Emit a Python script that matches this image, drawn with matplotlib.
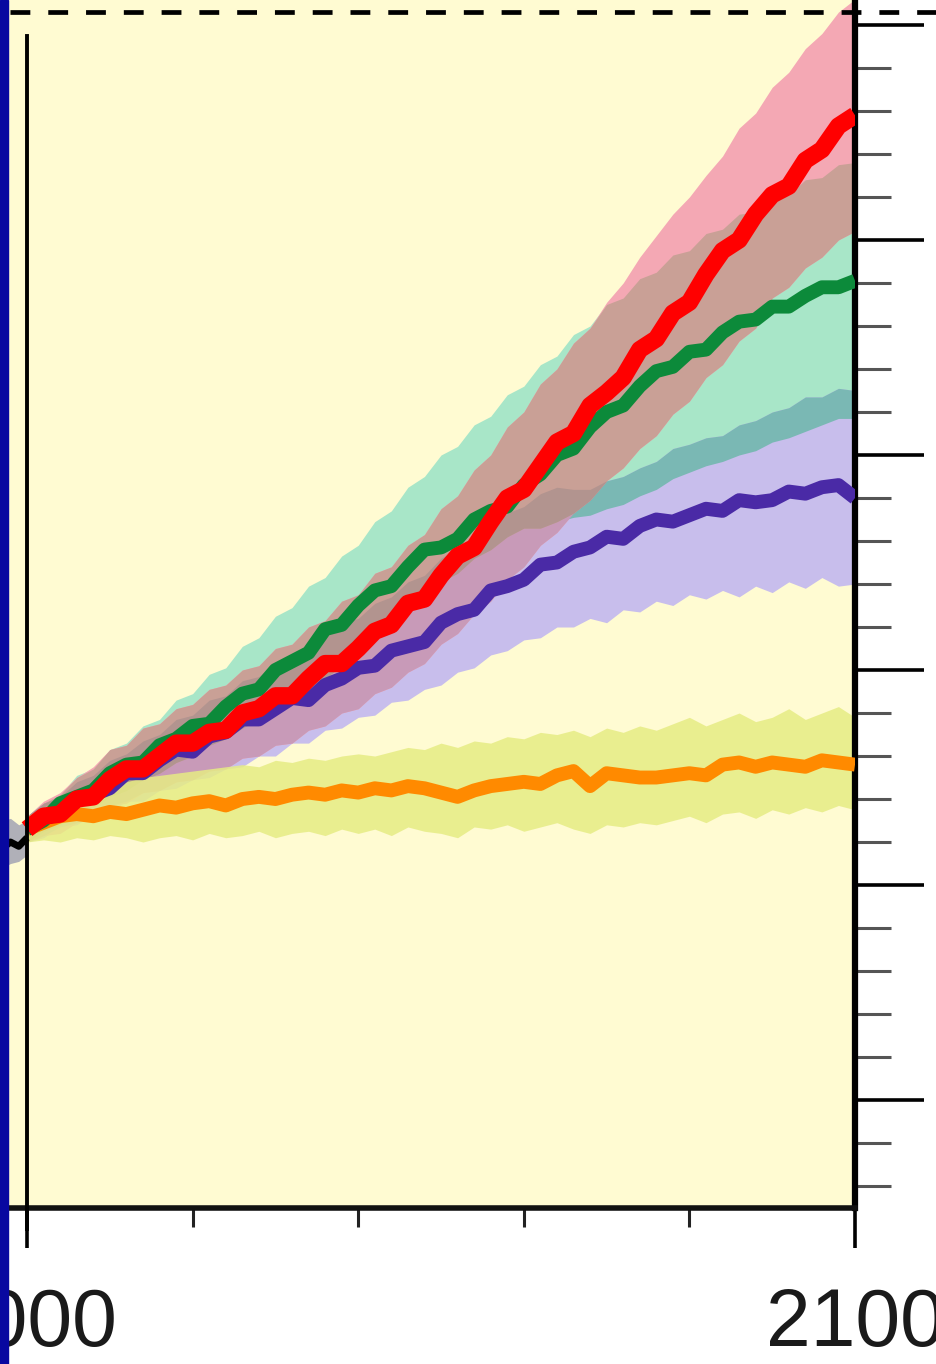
import numpy as np
import matplotlib
matplotlib.use("Agg")
import matplotlib.pyplot as plt
from matplotlib.lines import Line2D
from matplotlib.patches import Rectangle

# ---------------- data ----------------
years = list(range(2000, 2101, 2))

a2_mean = [0.26,0.32,0.33,0.40,0.41,0.49,0.54,0.54,0.60,0.66,
           0.66,0.71,0.72,0.80,0.82,0.88,0.88,0.96,1.03,1.03,
           1.10,1.18,1.21,1.31,1.33,1.44,1.53,1.57,1.69,1.80,
           1.84,1.95,2.06,2.10,2.23,2.29,2.36,2.49,2.54,2.66,
           2.71,2.84,2.95,3.00,3.12,3.21,3.25,3.37,3.42,3.53,
           3.58]
a2_upper = [0.32,0.39,0.43,0.50,0.55,0.63,0.65,0.73,0.75,0.82,
            0.84,0.91,0.93,1.00,1.02,1.10,1.12,1.20,1.23,1.32,
            1.35,1.45,1.48,1.58,1.63,1.75,1.81,1.93,2.00,2.13,
            2.20,2.33,2.40,2.52,2.59,2.71,2.80,2.92,3.02,3.12,
            3.20,3.30,3.39,3.52,3.59,3.71,3.78,3.89,3.96,4.06,
            4.12]
a2_lower = [0.20,0.23,0.24,0.29,0.31,0.37,0.38,0.43,0.44,0.48,
            0.49,0.53,0.54,0.59,0.60,0.65,0.66,0.72,0.74,0.80,
            0.82,0.89,0.92,0.99,1.03,1.12,1.17,1.26,1.32,1.42,
            1.48,1.58,1.64,1.73,1.79,1.88,1.94,2.03,2.09,2.19,
            2.25,2.36,2.42,2.53,2.59,2.73,2.78,2.87,2.92,3.00,
            3.04]

a1b_mean = [0.26,0.30,0.38,0.41,0.44,0.52,0.56,0.57,0.65,0.68,
            0.74,0.75,0.83,0.89,0.91,1.00,1.04,1.08,1.19,1.21,
            1.30,1.37,1.39,1.48,1.56,1.57,1.61,1.70,1.74,1.76,
            1.86,1.91,2.00,2.03,2.13,2.20,2.23,2.32,2.39,2.41,
            2.48,2.49,2.57,2.62,2.63,2.69,2.69,2.74,2.78,2.78,
            2.81]
a1b_upper = [0.32,0.38,0.42,0.51,0.54,0.63,0.66,0.74,0.77,0.86,
             0.89,0.98,1.01,1.11,1.15,1.25,1.29,1.39,1.43,1.53,
             1.58,1.69,1.74,1.85,1.90,2.00,2.04,2.14,2.18,2.28,
             2.32,2.42,2.46,2.56,2.60,2.70,2.73,2.82,2.85,2.93,
             2.95,3.03,3.05,3.12,3.13,3.20,3.21,3.28,3.29,3.35,
             3.36]
a1b_lower = [0.20,0.25,0.28,0.33,0.36,0.41,0.44,0.49,0.52,0.57,
             0.60,0.65,0.68,0.73,0.77,0.82,0.86,0.92,0.96,1.02,
             1.07,1.14,1.20,1.30,1.34,1.41,1.45,1.52,1.56,1.62,
             1.66,1.66,1.69,1.71,1.72,1.75,1.77,1.81,1.84,1.89,
             1.92,1.95,1.97,2.00,2.02,2.06,2.08,2.11,2.14,2.17,
             2.17]

b1_mean = [0.26,0.31,0.33,0.40,0.42,0.45,0.52,0.52,0.58,0.63,
           0.62,0.69,0.71,0.77,0.77,0.82,0.87,0.86,0.93,0.96,
           1.01,1.02,1.09,1.11,1.13,1.22,1.26,1.28,1.37,1.39,
           1.42,1.49,1.50,1.55,1.57,1.62,1.61,1.67,1.70,1.69,
           1.72,1.75,1.74,1.79,1.78,1.79,1.83,1.82,1.85,1.86,
           1.80]
b1_upper = [0.32,0.38,0.41,0.48,0.51,0.58,0.61,0.67,0.70,0.77,
            0.79,0.86,0.88,0.95,0.97,1.03,1.06,1.12,1.15,1.22,
            1.24,1.31,1.34,1.41,1.44,1.52,1.56,1.63,1.66,1.73,
            1.76,1.82,1.85,1.84,1.84,1.88,1.90,1.94,1.97,2.03,
            2.05,2.08,2.09,2.14,2.16,2.20,2.22,2.27,2.27,2.31,
            2.30]
b1_lower = [0.20,0.22,0.27,0.28,0.33,0.34,0.39,0.39,0.44,0.45,
            0.49,0.50,0.54,0.55,0.60,0.60,0.66,0.66,0.72,0.73,
            0.78,0.79,0.85,0.86,0.91,0.93,0.99,1.01,1.07,1.09,
            1.14,1.15,1.20,1.20,1.24,1.22,1.28,1.27,1.32,1.30,
            1.35,1.33,1.37,1.34,1.39,1.36,1.41,1.38,1.43,1.39,
            1.40]

const_mean = [0.26,0.29,0.32,0.33,0.32,0.34,0.33,0.35,0.37,0.36,
              0.38,0.39,0.37,0.40,0.41,0.40,0.42,0.43,0.42,0.44,
              0.43,0.45,0.44,0.46,0.45,0.43,0.41,0.44,0.46,0.47,
              0.48,0.47,0.51,0.53,0.46,0.52,0.51,0.50,0.50,0.51,
              0.52,0.51,0.56,0.57,0.55,0.57,0.56,0.55,0.58,0.57,
              0.56]
const_upper = [0.32,0.36,0.40,0.42,0.44,0.46,0.48,0.50,0.51,0.52,
               0.53,0.54,0.55,0.56,0.55,0.58,0.57,0.59,0.58,0.60,
               0.61,0.60,0.62,0.64,0.63,0.66,0.64,0.67,0.66,0.69,
               0.68,0.71,0.70,0.72,0.69,0.73,0.71,0.74,0.72,0.75,
               0.78,0.74,0.77,0.80,0.76,0.78,0.82,0.77,0.80,0.83,
               0.78]
const_lower = [0.20,0.21,0.20,0.22,0.21,0.23,0.22,0.20,0.22,0.23,
               0.21,0.24,0.22,0.23,0.25,0.22,0.24,0.25,0.23,0.26,
               0.24,0.26,0.23,0.27,0.25,0.24,0.22,0.27,0.26,0.28,
               0.25,0.27,0.29,0.26,0.24,0.28,0.27,0.29,0.28,0.30,
               0.32,0.29,0.33,0.34,0.31,0.35,0.33,0.36,0.34,0.37,
               0.35]

hist_years = [1997.0, 1998.0, 1999.0, 2000.0]
hist_vals = [0.17, 0.20, 0.18, 0.22]
hist_lower = [0.08, 0.10, 0.11, 0.14]
hist_upper = [0.30, 0.31, 0.28, 0.30]

x_major = [2000, 2100]
x_major_labels = ["2000", "2100"]
x_minor = [2020, 2040, 2060, 2080]
y_major = [-1, 0, 1, 2, 3, 4]

# ---------------- figure ----------------
W, H = 937, 1364
fig = plt.figure(figsize=(W / 100, H / 100), dpi=100)
fig.patch.set_facecolor("white")

left_px, right_px, bottom_px = 8, 855, 1208
ax = fig.add_axes([left_px / W, (H - bottom_px) / H,
                   (right_px - left_px) / W, bottom_px / H])
ax.set_facecolor("#fffbd2")
ax.set_xlim(1997.7, 2100)
ax.set_ylim(-1.502, 4.116)

yrs = np.array(years, dtype=float)

# colours
c_teal = "#a8e6c8"
c_lav = "#c8beec"
c_pink = "#f4a8b4"
c_yel = "#e6ec84"
c_pink_teal = "#c9a096"
c_teal_lav = "#7ab8b4"
c_pink_lav = "#c89ab8"
c_triple = "#b2948f"

ax.fill_between(yrs, a1b_lower, a1b_upper, color=c_teal, lw=0, zorder=1)
ax.fill_between(yrs, b1_lower, b1_upper, color=c_lav, lw=0, zorder=1)
ax.fill_between(yrs, a2_lower, a2_upper, color=c_pink, lw=0, zorder=1)


def overlap(bands, color, z):
    lo = np.max([np.asarray(b[0]) for b in bands], axis=0)
    hi = np.min([np.asarray(b[1]) for b in bands], axis=0)
    ax.fill_between(yrs, lo, hi, where=hi > lo, interpolate=True,
                    color=color, lw=0, zorder=z)


A2 = (a2_lower, a2_upper)
A1B = (a1b_lower, a1b_upper)
B1 = (b1_lower, b1_upper)
overlap([A1B, B1], c_teal_lav, 1.2)
overlap([A2, B1], c_pink_lav, 1.3)
overlap([A2, A1B], c_pink_teal, 1.4)
overlap([A2, A1B, B1], c_triple, 1.5)

ax.fill_between(yrs, const_lower, const_upper, color=c_yel, lw=0,
                alpha=0.85, zorder=1.8)

# historical end (cropped at the left)
ax.fill_between(hist_years, hist_lower, hist_upper, color="#b0b0b8",
                lw=0, zorder=1.9)
ax.plot(hist_years, hist_vals, color="black", lw=5, zorder=2.0,
        solid_capstyle="butt")

# scenario lines
ax.plot(yrs, const_mean, color="#ff8a00", lw=10, zorder=3,
        solid_joinstyle="round", solid_capstyle="butt")
ax.plot(yrs, b1_mean, color="#4a2aa6", lw=10, zorder=3.1,
        solid_joinstyle="round", solid_capstyle="butt")
ax.plot(yrs, a1b_mean, color="#0c8a3a", lw=10, zorder=3.2,
        solid_joinstyle="round", solid_capstyle="butt")
ax.plot(yrs, a2_mean, color="#ff0000", lw=12.5, zorder=3.3,
        solid_joinstyle="round", solid_capstyle="butt")

# vertical line at 2000
ax.plot([2000, 2000], [-1.6, 3.95], color="black", lw=2.8, zorder=4,
        clip_on=False)

# spines
ax.spines["left"].set_visible(False)
ax.spines["top"].set_visible(False)
ax.spines["right"].set_linewidth(4.5)
ax.spines["bottom"].set_linewidth(4.0)
ax.spines["right"].set_color("black")
ax.spines["bottom"].set_color("#111111")

# y ticks on the right, no labels (cropped)
ax.yaxis.tick_right()
ax.set_yticks(y_major)
ax.set_yticks(np.arange(-1.4, 4.01, 0.2), minor=True)
ax.tick_params(axis="y", which="major", direction="out", length=50,
               width=2.6, color="black", labelright=False, labelleft=False)
ax.tick_params(axis="y", which="minor", direction="out", length=26,
               width=2.2, color="#555555")

# x ticks
ax.set_xticks(x_major)
ax.set_xticklabels(x_major_labels)
ax.set_xticks(x_minor, minor=True)
ax.tick_params(axis="x", which="major", direction="out", length=29,
               width=2.6, color="black", pad=28, labelsize=58,
               labelcolor="#1a1a1a")
ax.tick_params(axis="x", which="minor", direction="out", length=14,
               width=2.2, color="#222222")
for lab in ax.get_xticklabels():
    lab.set_family(["Liberation Sans", "DejaVu Sans"])

# blue slide strip at the left
fig.add_artist(Rectangle((0, 0), left_px / W, 1, transform=fig.transFigure,
                         color="#0808a0", zorder=10))

# dashed line across the top
yd = 1 - 12 / H
fig.add_artist(Line2D([10 / W, 1], [yd, yd], transform=fig.transFigure,
                      color="black", lw=3.4, linestyle=(0, (4.2, 3.8)),
                      zorder=11))

fig.savefig("out.png", dpi=100, facecolor=fig.get_facecolor())
